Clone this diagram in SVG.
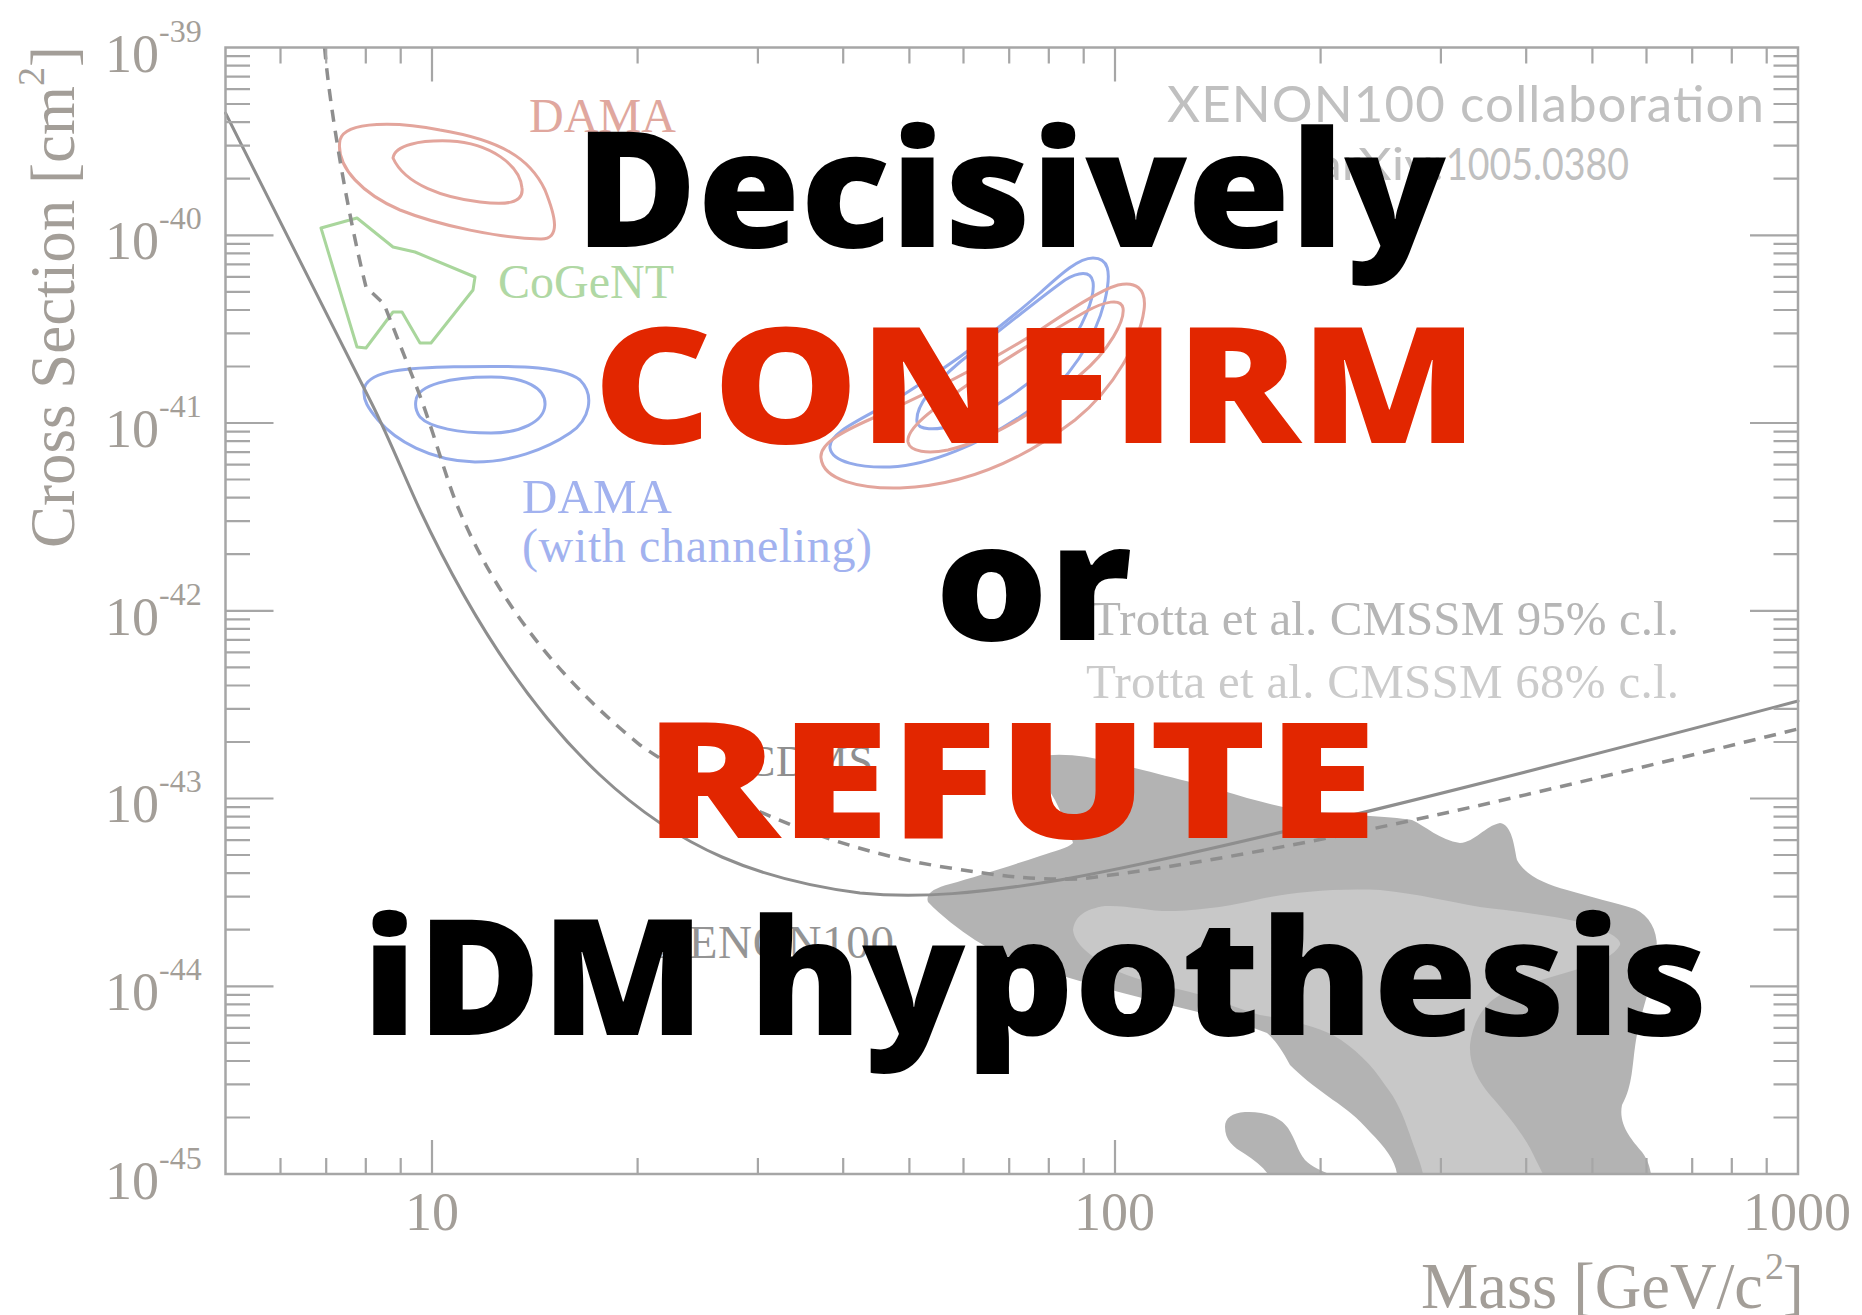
<svg xmlns="http://www.w3.org/2000/svg" width="1862" height="1315" viewBox="0 0 1862 1315">
  <style>
    .frame { fill: none; stroke: #a6a6a6; stroke-width: 2.5; }
    .ticks { fill: none; stroke: #a6a6a6; stroke-width: 2.2; }
    .serif { font-family: "Liberation Serif", "Times New Roman", serif; }
    .num { font-family: "Liberation Serif", "Times New Roman", serif; font-size: 54px; fill: #a39e98; }
    .sup { font-size: 32px; }
    .axis { font-family: "Liberation Serif", "Times New Roman", serif; fill: #a39e98; }
    .sans { font-family: "Lato", "Open Sans", "Liberation Sans", sans-serif; }
    .contour { fill: none; stroke-width: 3; stroke-linejoin: round; }
    .red { stroke: #e3a59c; }
    .blue { stroke: #93aaea; }
    .green { stroke: #a9d69c; }
    .limit { fill: none; stroke: #8e8e8e; stroke-width: 3; stroke-linecap: round; }
    .cdms { fill: none; stroke: #8e8e8e; stroke-width: 3.5; stroke-dasharray: 12 9; }
    .big { font-family: "Open Sans", "Lato", "Liberation Sans", sans-serif; font-weight: 800; font-size: 161px; }
    .black { fill: #000000; }
    .hot { fill: #e22600; }
  </style>

  <rect x="0" y="0" width="1862" height="1315" fill="#ffffff"/>

  <!-- CMSSM favoured regions (Trotta et al.) -->
  <g id="cmssm">
    <path id="cmssm95" fill="#b3b3b3" d="M1040,757 C1055,752 1090,756 1110,762 C1140,769 1190,782 1220,790 C1250,799 1275,806 1300,810 C1340,815 1390,816 1412,820 C1425,826 1440,840 1460,843 C1475,842 1485,826 1500,823 C1512,825 1514,845 1517,860 C1525,875 1545,884 1567,890 C1590,897 1617,903 1635,909 C1652,917 1660,935 1656,960 C1650,990 1640,1015 1636,1040 C1632,1065 1633,1085 1622,1105 C1618,1125 1632,1140 1642,1152 C1648,1160 1650,1168 1651,1174 L1397,1174 C1395,1160 1385,1147 1370,1132 C1358,1118 1345,1108 1333,1100 C1312,1085 1300,1075 1290,1065 C1282,1050 1275,1040 1267,1033 C1240,1022 1210,1015 1190,1010 C1150,1000 1100,988 1050,972 C1020,962 995,953 975,940 C960,930 940,915 928,902 C925,893 935,888 950,884 C975,877 1010,866 1040,856 C1055,851 1068,848 1073,843 C1070,830 1062,815 1055,800 C1048,788 1040,775 1040,757 Z"/>
    <path id="cmssm95b" fill="#b3b3b3" d="M1225,1127 C1225,1118 1232,1113 1245,1112 C1262,1111 1280,1116 1288,1128 C1296,1140 1297,1150 1305,1160 C1312,1167 1322,1171 1329,1174 L1268,1174 C1262,1166 1254,1160 1245,1154 C1233,1147 1225,1140 1225,1127 Z"/>
    <path id="cmssm68" fill="#c8c8c8" d="M1073,930 C1075,916 1085,909 1105,906 C1130,905 1150,912 1175,911 C1205,910 1235,905 1260,899 C1290,893 1330,888 1380,890 C1420,894 1450,902 1480,907 C1520,912 1560,916 1585,924 C1605,930 1622,938 1620,945 C1615,955 1600,962 1575,970 C1550,978 1520,985 1500,995 C1482,1005 1472,1025 1470,1045 C1469,1065 1478,1080 1490,1095 C1505,1112 1520,1130 1530,1148 C1536,1160 1540,1168 1543,1174 L1423,1174 C1420,1160 1414,1148 1410,1135 C1403,1115 1397,1100 1385,1085 C1372,1065 1355,1048 1333,1035 C1315,1026 1290,1020 1260,1015 C1235,1008 1215,998 1190,992 C1160,985 1130,978 1110,968 C1090,955 1075,945 1073,930 Z"/>
  </g>

  <!-- signal regions -->
  <g id="dama-na">
    <path class="contour red" d="M340,140 C345,120 400,122 440,130 C500,140 530,158 545,190 C555,215 562,240 540,239 C500,238 440,226 400,210 C365,195 335,168 340,140 Z"/>
    <path class="contour red" d="M393,158 C395,145 420,140 450,141 C490,143 520,165 522,188 C524,204 505,205 480,202 C445,198 405,185 393,158 Z"/>
  </g>
  <g id="cogent">
    <polygon class="contour green" points="321,228 357,218 393,247 415,252 475,277 473,290 431,343 420,343 402,312 393,312 366,348 357,347"/>
  </g>
  <g id="dama-channeling">
    <path class="contour blue" d="M364,390 C366,372 400,368 446,367 C500,366 560,364 580,380 C595,395 590,420 570,433 C545,450 510,462 475,462 C430,461 395,440 378,420 C368,408 363,400 364,390 Z"/>
    <path class="contour blue" d="M416,400 C418,385 450,377 491,377 C525,377 546,388 545,405 C544,422 520,433 491,433 C460,433 430,428 420,417 C415,410 415,405 416,400 Z"/>
  </g>
  <g id="dama-high">
    <path class="contour blue" d="M830,448 C832,462 860,468 890,467 C930,465 980,445 1030,410 C1070,380 1095,340 1105,300 C1112,270 1108,258 1093,258 C1078,258 1060,275 1040,293 C1000,328 950,366 900,397 C865,418 828,432 830,448 Z"/>
    <path class="contour blue" d="M917,422 C918,430 935,431 955,425 C990,413 1030,385 1060,355 C1085,328 1095,295 1093,282 C1091,270 1078,272 1065,280 C1040,298 1000,330 960,362 C935,383 915,405 917,422 Z"/>
    <path class="contour red" d="M821,458 C823,480 860,489 900,488 C960,486 1020,462 1075,420 C1115,388 1140,340 1144,310 C1147,288 1135,281 1118,285 C1100,290 1070,310 1040,330 C990,362 930,392 880,415 C845,430 819,443 821,458 Z"/>
    <path class="contour red" d="M908,442 C910,452 928,454 948,450 C990,440 1040,410 1080,375 C1110,350 1125,320 1123,308 C1121,298 1105,301 1085,312 C1050,332 1000,362 960,390 C935,408 906,428 908,442 Z"/>
  </g>

  <!-- exclusion limits -->
  <g id="limits">
    <path id="cdms-limit" class="cdms" d="M324.6,47.5 C330,110 348,215 366,287 L384,304 L415,383 C430,420 442,465 455,500 C495,600 560,680 640,745 C720,800 830,850 950,868 C1000,876 1030,880 1080,879 C1300,852 1550,790 1798,729"/>
    <path id="xenon-limit" class="limit" d="M225.5,113 L372,404 C390,440 405,478 420,510 C460,595 520,700 600,775 C680,850 760,880 860,893 C920,899 980,893 1060,880 C1200,855 1500,780 1798,701"/>
  </g>

  <!-- plot frame and ticks -->
  <g id="axes">
    <rect class="frame" x="225.5" y="47.5" width="1572.5" height="1126.5"/>
    <path class="ticks" d="
      M225.5,1117.5h24.5 M225.5,1084.4h24.5 M225.5,1061h24.5 M225.5,1042.8h24.5 M225.5,1027.9h24.5 M225.5,1015.3h24.5 M225.5,1004.4h24.5 M225.5,994.8h24.5
      M225.5,929.7h24.5 M225.5,896.7h24.5 M225.5,873.2h24.5 M225.5,855h24.5 M225.5,840.2h24.5 M225.5,827.6h24.5 M225.5,816.7h24.5 M225.5,807.1h24.5
      M225.5,742h24.5 M225.5,708.9h24.5 M225.5,685.5h24.5 M225.5,667.3h24.5 M225.5,652.4h24.5 M225.5,639.8h24.5 M225.5,628.9h24.5 M225.5,619.3h24.5
      M225.5,554.2h24.5 M225.5,521.2h24.5 M225.5,497.7h24.5 M225.5,479.5h24.5 M225.5,464.7h24.5 M225.5,452.1h24.5 M225.5,441.2h24.5 M225.5,431.6h24.5
      M225.5,366.5h24.5 M225.5,333.4h24.5 M225.5,310h24.5 M225.5,291.8h24.5 M225.5,276.9h24.5 M225.5,264.3h24.5 M225.5,253.4h24.5 M225.5,243.8h24.5
      M225.5,178.7h24.5 M225.5,145.7h24.5 M225.5,122.2h24.5 M225.5,104h24.5 M225.5,89.2h24.5 M225.5,76.6h24.5 M225.5,65.7h24.5 M225.5,56.1h24.5
      M225.5,235.3h48 M225.5,423h48 M225.5,610.8h48 M225.5,798.5h48 M225.5,986.3h48
      M1798,1117.5h-24.5 M1798,1084.4h-24.5 M1798,1061h-24.5 M1798,1042.8h-24.5 M1798,1027.9h-24.5 M1798,1015.3h-24.5 M1798,1004.4h-24.5 M1798,994.8h-24.5
      M1798,929.7h-24.5 M1798,896.7h-24.5 M1798,873.2h-24.5 M1798,855h-24.5 M1798,840.2h-24.5 M1798,827.6h-24.5 M1798,816.7h-24.5 M1798,807.1h-24.5
      M1798,742h-24.5 M1798,708.9h-24.5 M1798,685.5h-24.5 M1798,667.3h-24.5 M1798,652.4h-24.5 M1798,639.8h-24.5 M1798,628.9h-24.5 M1798,619.3h-24.5
      M1798,554.2h-24.5 M1798,521.2h-24.5 M1798,497.7h-24.5 M1798,479.5h-24.5 M1798,464.7h-24.5 M1798,452.1h-24.5 M1798,441.2h-24.5 M1798,431.6h-24.5
      M1798,366.5h-24.5 M1798,333.4h-24.5 M1798,310h-24.5 M1798,291.8h-24.5 M1798,276.9h-24.5 M1798,264.3h-24.5 M1798,253.4h-24.5 M1798,243.8h-24.5
      M1798,178.7h-24.5 M1798,145.7h-24.5 M1798,122.2h-24.5 M1798,104h-24.5 M1798,89.2h-24.5 M1798,76.6h-24.5 M1798,65.7h-24.5 M1798,56.1h-24.5
      M1798,235.3h-48 M1798,423h-48 M1798,610.8h-48 M1798,798.5h-48 M1798,986.3h-48
      M280.5,1174v-16 M326.2,1174v-16 M365.8,1174v-16 M400.7,1174v-16 M637.6,1174v-16 M757.9,1174v-16 M843.2,1174v-16 M909.4,1174v-16 M963.5,1174v-16 M1009.2,1174v-16 M1048.8,1174v-16 M1083.7,1174v-16
      M1320.6,1174v-16 M1440.9,1174v-16 M1526.2,1174v-16 M1592.4,1174v-16 M1646.5,1174v-16 M1692.2,1174v-16 M1731.8,1174v-16 M1766.7,1174v-16
      M432,1174v-34 M1115,1174v-34
      M280.5,47.5v16 M326.2,47.5v16 M365.8,47.5v16 M400.7,47.5v16 M637.6,47.5v16 M757.9,47.5v16 M843.2,47.5v16 M909.4,47.5v16 M963.5,47.5v16 M1009.2,47.5v16 M1048.8,47.5v16 M1083.7,47.5v16
      M1320.6,47.5v16 M1440.9,47.5v16 M1526.2,47.5v16 M1592.4,47.5v16 M1646.5,47.5v16 M1692.2,47.5v16 M1731.8,47.5v16 M1766.7,47.5v16
      M432,47.5v34 M1115,47.5v34"/>
  </g>

  <!-- axis labels -->
  <g id="y-labels">
    <text class="num" x="105" y="72">10<tspan class="sup" dy="-30">-39</tspan></text>
    <text class="num" x="105" y="259">10<tspan class="sup" dy="-30">-40</tspan></text>
    <text class="num" x="105" y="447">10<tspan class="sup" dy="-30">-41</tspan></text>
    <text class="num" x="105" y="635">10<tspan class="sup" dy="-30">-42</tspan></text>
    <text class="num" x="105" y="822">10<tspan class="sup" dy="-30">-43</tspan></text>
    <text class="num" x="105" y="1010">10<tspan class="sup" dy="-30">-44</tspan></text>
    <text class="num" x="105" y="1199">10<tspan class="sup" dy="-30">-45</tspan></text>
  </g>
  <g id="x-labels">
    <text class="num" x="432" y="1230" text-anchor="middle" font-size="52">10</text>
    <text class="num" x="1114.5" y="1230" text-anchor="middle" font-size="52">100</text>
    <text class="num" x="1797" y="1230" text-anchor="middle" font-size="52">1000</text>
  </g>
  <g id="axis-titles">
    <text class="axis" transform="translate(74,548) rotate(-90)" font-size="63">Cross Section [cm<tspan font-size="38" dy="-30">2</tspan><tspan dy="30">]</tspan></text>
    <text class="axis" x="1421" y="1308" font-size="65" textLength="342" lengthAdjust="spacingAndGlyphs">Mass [GeV/c</text>
    <text class="axis" x="1765" y="1279" font-size="38">2</text>
    <text class="axis" x="1783" y="1308" font-size="62">]</text>
  </g>

  <!-- region and curve labels -->
  <g id="labels">
    <text class="serif" x="529" y="132" font-size="48" fill="#e0a79e" textLength="147">DAMA</text>
    <text class="serif" x="498" y="298" font-size="48" fill="#b0d8a4" textLength="176">CoGeNT</text>
    <text class="serif" x="522" y="513" font-size="49" fill="#a2b2ef" textLength="150">DAMA</text>
    <text class="serif" x="522" y="562" font-size="48" fill="#a2b2ef" textLength="350">(with channeling)</text>
    <text class="serif" x="746" y="776" font-size="44" fill="#8f8f8f" textLength="127">CDMS</text>
    <text class="serif" x="654" y="958" font-size="47" fill="#949494" textLength="240">XENON100</text>
    <text class="serif" x="1091" y="635" font-size="49" fill="#b6b6b6" textLength="588">Trotta et al. CMSSM 95% c.l.</text>
    <text class="serif" x="1086" y="698" font-size="49" fill="#cbcbcb" textLength="593">Trotta et al. CMSSM 68% c.l.</text>
    <text class="sans" x="1167" y="122" font-size="51" fill="#c0c0c0" textLength="597">XENON100 collaboration</text>
    <text class="sans" x="1316" y="180" font-size="45" fill="#c0c0c0"><tspan textLength="128" lengthAdjust="spacingAndGlyphs">arXiv:</tspan><tspan x="1446" textLength="183" lengthAdjust="spacingAndGlyphs">1005.0380</tspan></text>
  </g>

  <!-- headline -->
  <g id="headline">
    <text class="big black" x="575" y="247" textLength="871" lengthAdjust="spacingAndGlyphs">Decisively</text>
    <text class="big hot" x="593" y="443" textLength="885" lengthAdjust="spacingAndGlyphs">CONFIRM</text>
    <text class="big black" x="935" y="640" textLength="197" lengthAdjust="spacingAndGlyphs">or</text>
    <text class="big hot" x="644" y="838" textLength="733" lengthAdjust="spacingAndGlyphs">REFUTE</text>
    <text class="big black" x="362" y="1035" textLength="1346" lengthAdjust="spacingAndGlyphs">iDM hypothesis</text>
  </g>
</svg>
